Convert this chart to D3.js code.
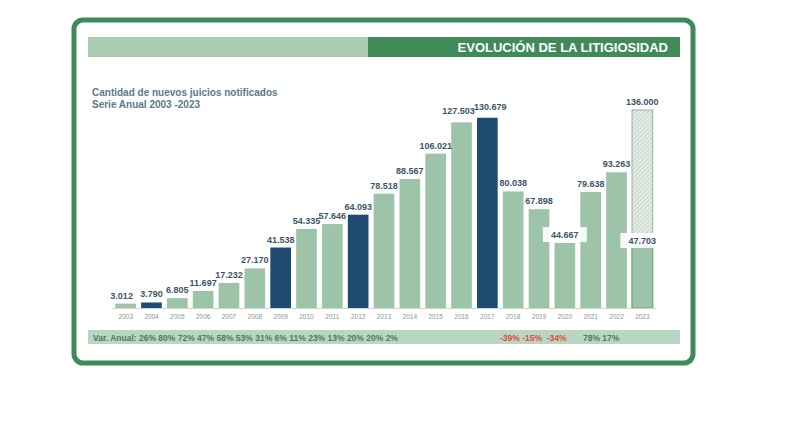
<!DOCTYPE html>
<html><head><meta charset="utf-8">
<script src="https://cdn.jsdelivr.net/npm/d3@7"></script>
<style>body{margin:0;background:#fff}text{font-family:"Liberation Sans",Arial,sans-serif}</style>
</head><body><svg id="c" width="790" height="426"></svg>
<script>
// datos
const years = ["2003","2004","2005","2006","2007","2008","2009","2010","2011","2012","2013","2014","2015","2016","2017","2018","2019","2020","2021","2022","2023"];
const values = [3012,3790,6805,11697,17232,27170,41538,54335,57646,64093,78518,88567,106021,127503,130679,80038,67898,44667,79638,93263,47703];
const labels = ["3.012","3.790","6.805","11.697","17.232","27.170","41.538","54.335","57.646","64.093","78.518","88.567","106.021","127.503","130.679","80.038","67.898","44.667","79.638","93.263","47.703"];
const highlight = ["2004","2009","2012","2017"];
const projected = 136000, projectedLabel = "136.000";
const varPos = ["26%","80%","72%","47%","58%","53%","31%","6%","11%","23%","13%","20%","20%","2%"];
const varNeg = ["-39%","-15%","-34%"];
const varPos2 = ["78%","17%"];

const svg = d3.select("#c");
const light = "#9dc3a9", dark = "#1f4b73", green = "#3f8a57", lab = "#3d5566";

// marco
svg.append("rect").attr("x",74).attr("y",20).attr("width",619).attr("height",343).attr("rx",9)
  .attr("fill","#fff").attr("stroke",green).attr("stroke-width",5);
svg.append("rect").attr("x",88).attr("y",37).attr("width",280).attr("height",20).attr("fill","#a9ccb3");
svg.append("rect").attr("x",368).attr("y",37).attr("width",312).attr("height",20).attr("fill",green);
svg.append("text").attr("x",668).attr("y",52).attr("text-anchor","end").attr("fill","#fff")
  .attr("font-weight","bold").attr("font-size",13).text("EVOLUCIÓN DE LA LITIGIOSIDAD");
svg.append("text").attr("x",92).attr("y",96).attr("fill","#5b7a86").attr("font-weight","bold").attr("font-size",10).text("Cantidad de nuevos juicios notificados");
svg.append("text").attr("x",92).attr("y",108).attr("fill","#5b7a86").attr("font-weight","bold").attr("font-size",10).text("Serie Anual 2003 -2023");

const x = d3.scaleBand().domain(years).range([114,654]).paddingInner(0.2).paddingOuter(0.05);
const y = d3.scaleLinear().domain([0,projected]).range([308,110]);

const defs = svg.append("defs");
const pat = defs.append("pattern").attr("id","hatch").attr("width",3).attr("height",3)
  .attr("patternUnits","userSpaceOnUse").attr("patternTransform","rotate(45)");
pat.append("rect").attr("width",3).attr("height",3).attr("fill","#e4eee7");
pat.append("line").attr("x1",0).attr("y1",0).attr("x2",0).attr("y2",3).attr("stroke","#a8b8ad").attr("stroke-width",1);

// barra proyectada 2023
svg.append("rect").attr("x",x("2023")).attr("y",y(projected)).attr("width",x.bandwidth())
  .attr("height",y(0)-y(projected)).attr("fill","url(#hatch)").attr("stroke","#8fb09a");

svg.selectAll(".bar").data(years).join("rect")
  .attr("x",d=>x(d)).attr("y",(d,i)=>y(values[i])).attr("width",x.bandwidth())
  .attr("height",(d,i)=>y(0)-y(values[i]))
  .attr("fill",d=>highlight.includes(d)?dark:light).attr("stroke",d=>d==="2023"?"#6f9a7d":"none");

svg.append("line").attr("x1",112).attr("x2",656).attr("y1",308.5).attr("y2",308.5).attr("stroke","#c8d8cc");

// etiquetas
years.forEach((d,i)=>{
  const cx = x(d)+x.bandwidth()/2;
  let ty = y(values[i])-5;
  if (d==="2016") ty -= 3;
  if (d==="2017") ty -= 3;
  if (d==="2020" || d==="2023") {
    ty = d==="2020" ? 238 : 244;
    svg.append("rect").attr("x",cx-22).attr("y",ty-11).attr("width",44).attr("height",15).attr("fill","#fff").attr("opacity",0.9);
  }
  svg.append("text").attr("x",d==="2003"?cx-4:(d==="2016"?cx-3:(d==="2017"?cx+3:cx))).attr("y",ty).attr("text-anchor","middle")
    .attr("fill",lab).attr("font-weight","bold").attr("font-size",9).text(labels[i]);
});
svg.append("text").attr("x",x("2023")+x.bandwidth()/2).attr("y",y(projected)-5).attr("text-anchor","middle")
  .attr("fill",lab).attr("font-weight","bold").attr("font-size",9).text(projectedLabel);

const ax = svg.append("g").attr("transform","translate(0,308)").call(d3.axisBottom(x).tickSize(0).tickPadding(6));
ax.select(".domain").remove();
ax.selectAll("text").attr("fill","#8a9690").attr("font-size",6.5);

// variación anual
svg.append("rect").attr("x",88).attr("y",330).attr("width",592).attr("height",14).attr("fill","#b9d6c2");
svg.append("text").attr("x",93).attr("y",341).attr("fill","#4f7a5c").attr("font-weight","bold").attr("font-size",8.5)
  .text("Var. Anual: " + varPos.join(" "));
svg.append("text").attr("x",500).attr("y",341).attr("fill","#e04a3a").attr("font-weight","bold").attr("font-size",8.5)
  .attr("xml:space","preserve").text(varNeg[0]+" "+varNeg[1]+"  "+varNeg[2]);
svg.append("text").attr("x",583).attr("y",341).attr("fill","#4f7a5c").attr("font-weight","bold").attr("font-size",8.5)
  .text(varPos2.join(" "));
</script></body></html>
